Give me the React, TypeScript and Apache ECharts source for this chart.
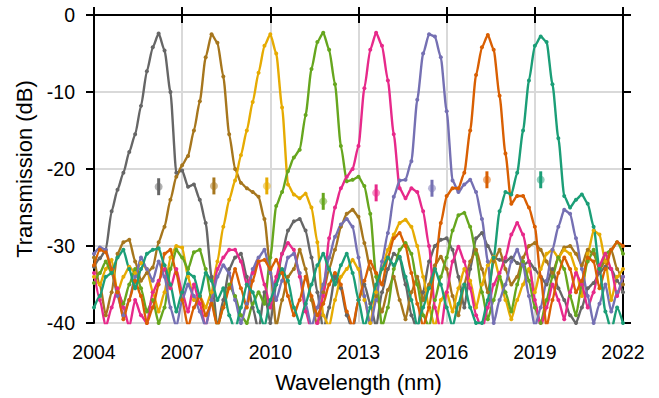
import React, { useEffect, useRef } from "react";
import * as echarts from "echarts";

// Wavelength sampling grid (nm axis label units): 2004 .. 2022, step 0.2
const WL_START = 2004;
const WL_STEP = 0.2;

const grayT = [
  -32.7, -31.6, -30.5, -25.5, -22.7, -20.5, -17.8, -15.5, -11.8, -7.3,
  -4.2, -2.4, -4.6, -10, -20.5, -20.2, -22.3, -22, -24, -27,
  -34, -40.5, -37, -33, -31.5, -31, -34, -38, -41, -36,
  -40, -35, -31, -28, -26.8, -26.5, -28, -31.5, -36, -41,
  -38, -34, -35.5, -39, -41, -37, -35, -37.5, -40.5, -36,
  -33, -31, -31.5, -35, -39, -41, -36, -32, -30, -29.2,
  -29, -30.5, -34, -38, -33, -29, -28.3, -30, -31.5, -31.8,
  -32, -31.5, -32.2, -32.5, -32, -33, -34, -35, -33, -35.5,
  -37, -39, -40, -38, -35.5, -34.8, -33.5, -32.7, -33, -34.5, -36,
];
const brownT = [
  -31.5, -35, -39, -36, -31, -29.5, -29.2, -32, -34.5, -33.5,
  -32.8, -29.5, -27.5, -24, -21, -19.5, -18.3, -15, -11.2, -5.5,
  -2.5, -3.6, -8, -15.5, -20, -21.8, -22.5, -23, -23.6, -26.5,
  -33, -40.5, -37, -34, -33, -30.5, -33, -37, -40.5, -36,
  -33, -30.5, -27.5, -25.8, -25.3, -26.2, -29.6, -33, -36.5, -38.5,
  -35.7, -34, -37, -39.5, -36, -34, -37, -35, -32.5, -31.4,
  -33, -36.5, -39, -35, -32, -30.5, -33, -36, -32, -30.5,
  -33, -35, -34, -31.5, -30, -29.6, -30.5, -32, -33.5, -31.5,
  -30.2, -30, -31, -32.5, -30.5, -31, -33, -32, -30.5, -33, -35,
];
const yellowT = [
  -34, -35, -33, -31.8, -36, -34, -32.7, -33.5, -32.2, -33,
  -36, -38.5, -36, -31.5, -30, -30.2, -34, -37, -36.5, -38,
  -36, -32, -27.5, -24, -21.5, -18.2, -15, -11.3, -7.5, -4,
  -2.5, -5, -12, -22, -23.3, -23.8, -23.2, -25, -29.5, -39,
  -40.5, -37, -34, -33, -31.8, -33, -37, -40, -36, -33,
  -30.5, -28.5, -27, -26.6, -27.5, -30, -34, -38, -40.5, -37,
  -36, -38.5, -35.5, -33, -34.5, -38, -35, -32.5, -31.4, -34,
  -37, -39.5, -37, -35, -33, -36, -33, -31, -30.5, -31.5,
  -30.5, -31, -33, -36.5, -31, -28, -28.5, -32, -37, -34, -33,
];
const greenT = [
  -34.8, -33.5, -32, -33.5, -36, -37.5, -35, -33, -35.5, -38.5,
  -37, -40, -38, -33, -30.5, -31.5, -33, -30.8, -30.5, -33,
  -37, -40.5, -38, -35, -36.5, -39, -40, -37.5, -36, -37.5,
  -31.5, -24.8, -23, -20.3, -18.5, -17.5, -13, -7, -3.5, -2.3,
  -4.5, -9, -17, -21.6, -21.4, -21, -22.2, -25.8, -34, -40.5,
  -38, -33, -30.5, -29.6, -31, -35, -39, -40.5, -37, -34,
  -31.5, -28, -26, -25.7, -27.5, -31, -36, -39.5, -37, -34,
  -36, -38.5, -35, -32, -34.5, -38, -40, -37, -34, -31.5,
  -33, -36.5, -39, -35, -32, -30.5, -33, -31, -30.5, -29.5, -31,
];
const pinkT = [
  -33.5, -37, -40.5, -38, -35.5, -38, -40.5, -37, -39, -40,
  -36, -34.5, -33, -35.5, -33, -36, -38.5, -35, -37.5, -40.5,
  -37, -33, -31.5, -30.5, -30.5, -32, -35, -33.5, -32, -35,
  -38, -34, -31, -29.6, -30.5, -34, -38.5, -41, -40, -36.5,
  -29, -25, -22.5, -21, -20, -17, -9.5, -4.5, -2.3, -4,
  -8.5, -15.5, -22.5, -23.8, -22.5, -23, -25.5, -30, -38, -41,
  -36, -32, -30.1, -32, -35.5, -39, -41, -38, -35, -33.5,
  -31.5, -28.5, -27, -28.5, -32, -37, -40.5, -38, -35, -37,
  -39.5, -36, -33.5, -35, -38, -36, -32.5, -31, -33, -36.5, -34,
];
const purpleT = [
  -31, -30.2, -30.5, -33, -36.5, -39, -37, -34, -31.5, -33,
  -34.5, -32, -34, -38, -40.5, -37, -35, -36.5, -38.5, -40.5,
  -37, -34, -32.5, -33.5, -37, -40, -37.5, -33, -31.5, -30.5,
  -33.5, -37, -34.5, -31.5, -31, -33.5, -37.5, -40.5, -38, -35,
  -31.5, -28.8, -27.2, -26.5, -27.5, -31.5, -36.5, -40.5, -37, -32,
  -28.3, -23.6, -21.5, -21.4, -19, -11, -5, -2.5, -2.8, -5.5,
  -12.5, -21.5, -23, -22, -21.4, -23, -26.5, -32, -40, -37,
  -35, -32, -30.5, -32.5, -36.5, -40.5, -38, -34.5, -30.5, -27.5,
  -25.3, -25.8, -29, -33, -36.5, -40, -37.5, -35, -38.5, -36, -34,
];
const orangeT = [
  -32.5, -30.5, -30.8, -33, -36, -39.5, -37, -34.5, -36.5, -40,
  -38, -35, -31, -30.5, -33.5, -37, -40.5, -38, -36.5, -39,
  -37.5, -40.5, -38, -35.5, -33, -35.5, -38, -34.5, -32, -31.8,
  -33, -31.8, -33.5, -36.5, -39, -37, -34, -36.5, -39, -37.5,
  -35, -33.5, -35, -38.5, -40.5, -37, -34.5, -32, -33.5, -35,
  -31.5, -29, -28.3, -30, -33.5, -37.5, -40.5, -38, -33, -27,
  -23.5, -22.5, -22.5, -20.5, -15, -7.8, -4.2, -2.6, -4.5, -10.5,
  -18, -24.5, -23.5, -23.5, -25, -27.5, -34, -40.5, -37, -33.5,
  -31.5, -33, -36, -34.5, -31.5, -32, -35.5, -33, -30.5, -29.5, -30,
];
const tealT = [
  -38, -36.5, -34, -33.5, -31.5, -30.5, -33, -35.5, -33, -31,
  -30.5, -30.3, -32.5, -35, -38.5, -36, -33.5, -34, -36.5, -33.5,
  -34.5, -37, -35.5, -39, -41, -38, -35, -36, -38.5, -40.5,
  -37, -35, -33, -34.5, -38, -40, -37.5, -35, -32.5, -31,
  -33, -35, -32.5, -31, -33.5, -37, -40.5, -38, -35, -33,
  -31.5, -32.5, -31.4, -34, -37, -40.5, -38, -35.5, -33, -35,
  -38, -40.5, -37.5, -35, -38, -40, -40, -37, -31.5, -25.5,
  -23, -23.3, -20.5, -15, -8.5, -4, -2.8, -3.5, -9, -16,
  -23.5, -25, -24, -23.3, -24.5, -27.5, -33, -38.5, -41, -38, -40,
];

// Marker points with error bars
const errX = [2006.2, 2008.08, 2009.88, 2011.8, 2013.6, 2015.5, 2017.37, 2019.2];
const errY = [-22.3, -22.2, -22.2, -24.2, -23.1, -22.5, -21.4, -21.4];
const errE = [1.1, 1.1, 1.1, 1.1, 1.1, 1.1, 1.1, 1.1];

const seriesNames = ["gray", "brown", "yellow", "green", "pink", "purple", "orange", "teal"];
const seriesColors = ["#666666", "#a6761d", "#e6ab02", "#66a61e", "#e7298a", "#7570b3", "#d95f02", "#1b9e77"];
const seriesValues = [grayT, brownT, yellowT, greenT, pinkT, purpleT, orangeT, tealT];

const FONT = "'Liberation Sans', Arial, Helvetica, sans-serif";

export default function App() {
  const ref = useRef<HTMLDivElement>(null);
  useEffect(() => {
    if (!ref.current) return;
    const chart = echarts.init(ref.current, null, { renderer: "svg" });
    const lineSeries = seriesValues.map((vals, k) => ({
      type: "line",
      name: seriesNames[k],
      data: vals.map((v, i) => [WL_START + WL_STEP * i, v]),
      xAxisIndex: 0,
      yAxisIndex: 0,
      symbol: "circle",
      symbolSize: 4,
      showSymbol: true,
      smooth: 0.2,
      smoothMonotone: "x",
      lineStyle: { width: 2.4, color: seriesColors[k] },
      itemStyle: { color: seriesColors[k] },
      clip: true,
      z: 3,
    }));
    const errSeries = {
      type: "custom",
      xAxisIndex: 0,
      yAxisIndex: 0,
      z: 5,
      data: errX.map((x, i) => [x, errY[i], errE[i]]),
      renderItem: (params: any, api: any) => {
        const x = api.value(0);
        const y = api.value(1);
        const e = api.value(2);
        const c = api.coord([x, y]);
        const t = api.coord([x, y + e]);
        const b = api.coord([x, y - e]);
        const color = seriesColors[params.dataIndex];
        return {
          type: "group",
          children: [
            { type: "circle", shape: { cx: c[0], cy: c[1], r: 4 }, style: { fill: color, opacity: 0.5 } },
            { type: "line", shape: { x1: c[0], y1: t[1], x2: c[0], y2: b[1] }, style: { stroke: color, lineWidth: 3 } },
          ],
        };
      },
    };
    const axisLine = { show: true, lineStyle: { color: "#000", width: 2 } };
    const axisTick = { show: true, inside: false, length: 8, lineStyle: { color: "#000", width: 2 } };
    chart.setOption({
      animation: false,
      backgroundColor: "#fff",
      grid: { left: 94, right: 36, top: 15, bottom: 75, containLabel: false },
      xAxis: [
        {
          type: "value",
          position: "bottom",
          min: 2004,
          max: 2022,
          interval: 3,
          axisLine,
          axisTick,
          axisLabel: { fontSize: 19.5, color: "#000", fontFamily: FONT, margin: 19, formatter: (v: number) => String(v) },
          splitLine: { show: true, lineStyle: { color: "#d9d9d9", width: 2 } },
          name: "Wavelength (nm)",
          nameLocation: "middle",
          nameGap: 48,
          nameTextStyle: { fontSize: 22, color: "#000", fontFamily: FONT },
        },
        {
          type: "value",
          position: "top",
          min: 2004,
          max: 2022,
          interval: 3,
          axisLine,
          axisTick,
          axisLabel: { show: false },
          splitLine: { show: false },
        },
      ],
      yAxis: [
        {
          type: "value",
          position: "left",
          min: -40,
          max: 0,
          interval: 10,
          axisLine,
          axisTick,
          axisLabel: { fontSize: 19.5, color: "#000", fontFamily: FONT, margin: 19 },
          splitLine: { show: true, lineStyle: { color: "#d9d9d9", width: 2 } },
          name: "Transmission (dB)",
          nameLocation: "middle",
          nameGap: 57,
          nameTextStyle: { fontSize: 22, color: "#000", fontFamily: FONT },
        },
        {
          type: "value",
          position: "right",
          min: -40,
          max: 0,
          interval: 10,
          axisLine,
          axisTick,
          axisLabel: { show: false },
          splitLine: { show: false },
        },
      ],
      series: [...lineSeries, errSeries],
    });
    return () => chart.dispose();
  }, []);
  return <div ref={ref} style={{ position: "fixed", left: 0, top: 0, width: 659, height: 398 }} />;
}
